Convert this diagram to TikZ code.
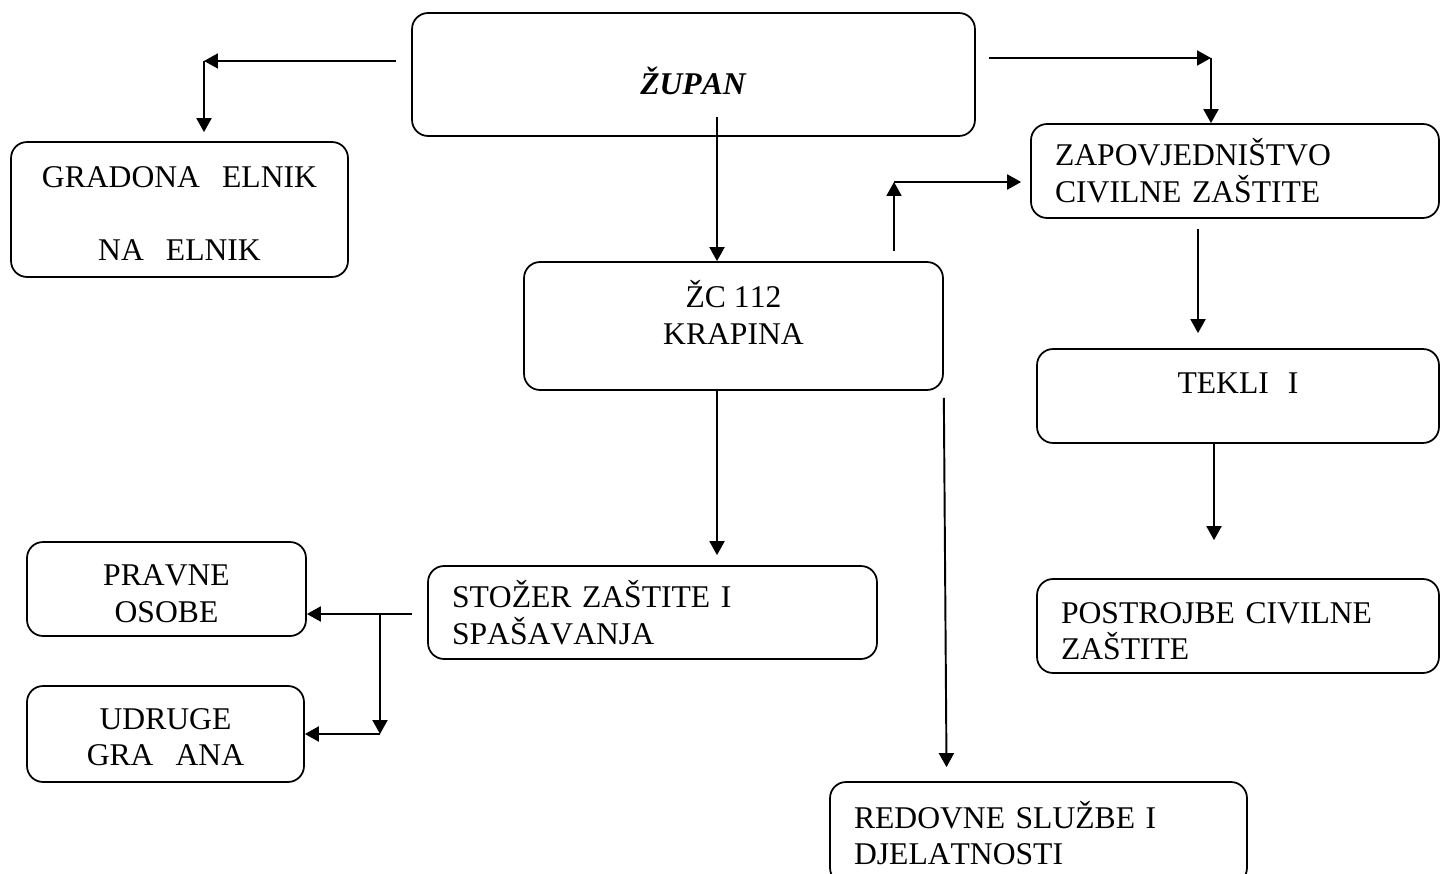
\documentclass[tikz,border=0pt]{standalone}
\usepackage{fontspec}
\setmainfont{Liberation Serif}[Kerning=Off]
\usetikzlibrary{arrows.meta}
\begin{document}
\begin{tikzpicture}[x=0.02cm, y=-0.02cm,
  box/.style={draw, line width=1pt, rounded corners=0.32cm, inner sep=0pt,
    font=\fontsize{18}{20.9}\selectfont, align=center},
  lbox/.style={box, align=left, inner xsep=0.48cm},
  lift/.style={text height=#1, text depth=0pt},
  arr/.style={line width=1.1pt, -{Triangle[length=0.28cm, width=0.3cm]}}]
  \useasboundingbox (0,0) rectangle (1440,874);
  \node[box, minimum width=11.26cm, minimum height=2.46cm, lift=23.3pt] (zupan) at (693.5,74.5) {\textbf{\textit{ŽUPAN}}};
  \node[box, minimum width=6.74cm, minimum height=2.7cm, lift=58.6pt] (gradonacelnik) at (179.5,209.5) {GRADONA\hspace{0.7em}ELNIK\\[21pt]NA\hspace{0.7em}ELNIK};
  \node[lbox, text width=7.2cm, minimum height=1.88cm] (zapovjednistvo) at (1235,171) {ZAPOVJEDNIŠTVO\\CIVILNE ZAŠTITE};
  \node[box, minimum width=8.38cm, minimum height=2.56cm, lift=20.5pt] (krapina) at (733.5,326) {ŽC 112\\KRAPINA};
  \node[box, minimum width=8.04cm, minimum height=1.88cm, text height=10pt, text depth=12.3pt] (tekli) at (1238,396) {TEKLI\hspace{0.6em}I};
  \node[lbox, text width=8.02cm, minimum height=1.86cm] (stozer) at (652.5,612.5) {STOŽER ZAŠTITE I\\SPAŠAVANJA};
  \node[box, minimum width=5.58cm, minimum height=1.88cm, lift=37.6pt] (pravne) at (166.5,589) {PRAVNE\\OSOBE};
  \node[box, minimum width=5.54cm, minimum height=1.92cm, lift=36.4pt] (udruge) at (165.5,734) {UDRUGE\\GRA\hspace{0.7em}ANA};
  \node[lbox, text width=7.08cm, minimum height=1.88cm, text height=10pt, text depth=13.4pt] (postrojbe) at (1238,626) {POSTROJBE CIVILNE\\ZAŠTITE};
  \node[lbox, text width=7.38cm, minimum height=2.04cm] (redovne) at (1038.5,833) {REDOVNE SLUŽBE I\\DJELATNOSTI};
  \coordinate (gl) at (204,61);
  \coordinate (zr) at (1211,58);
  \coordinate (k1) at (717,117);
  \coordinate (kz) at (894,182);
  \coordinate (sp) at (380,614);
  \draw[arr, shorten <=0.3cm] (zupan.west |- gl) -- (gl);
  \draw[arr, shorten >=0.18cm] (gl) -- (gl |- gradonacelnik.north);
  \draw[arr, shorten <=0.26cm] (zupan.east |- zr) -- (zr);
  \draw[arr] (zr) -- (zr |- zapovjednistvo.north);
  \draw[arr] (k1) -- (k1 |- krapina.north);
  \draw[arr, shorten <=0.2cm] (kz |- krapina.north) -- (kz);
  \draw[arr, shorten >=0.18cm] (kz) -- (kz -| zapovjednistvo.west);
  \draw[arr, shorten <=0.2cm, shorten >=0.3cm] ([xshift=-0.74cm]zapovjednistvo.south) -- ([xshift=-0.74cm]zapovjednistvo.south |- tekli.north);
  \draw[arr, shorten >=0.76cm] ([xshift=-0.48cm]tekli.south) -- ([xshift=-0.48cm]tekli.south |- postrojbe.north);
  \draw[arr, shorten >=0.2cm] (k1 |- krapina.south) -- (k1 |- stozer.north);
  \draw[arr] ([yshift=-0.14cm]krapina.south east) -- ([shift={(-1.84cm,0.28cm)}]redovne.north);
  \draw[arr, shorten <=0.3cm] (stozer.west |- sp) -- (sp -| pravne.east);
  \draw[arr] (sp) -- (sp |- udruge.east);
  \draw[arr] (sp |- udruge.east) -- (udruge.east);
\end{tikzpicture}
\end{document}
